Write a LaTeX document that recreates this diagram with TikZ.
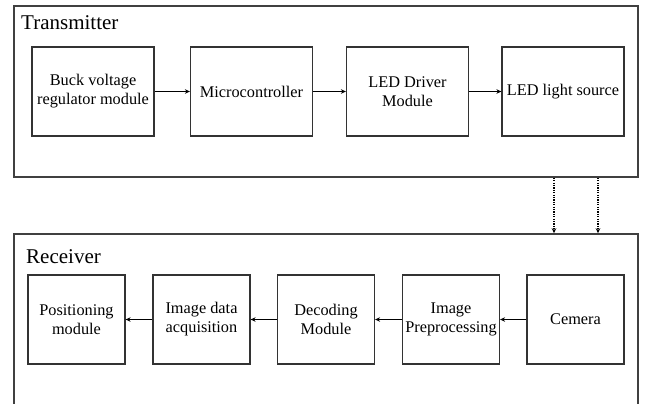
\documentclass[tikz,border=0pt]{standalone}
\usepackage{fontspec}
\setmainfont{Liberation Serif}
\usetikzlibrary{arrows.meta,positioning}

\begin{document}
\begin{tikzpicture}[
  x=1pt, y=-1pt,
  font=\fontsize{16.3}{19}\selectfont,
  frame/.style={draw=black!75, line width=1.5pt, rectangle, minimum width=624pt, inner sep=0pt},
  box/.style={draw=black!80, line width=1.2pt, rectangle, minimum height=89pt, align=center, inner sep=2pt},
  txbox/.style={box, minimum width=122pt},
  rxbox/.style={box, minimum width=97pt},
  title/.style={anchor=base west, inner sep=0pt, font=\fontsize{21}{25}\selectfont},
  arr/.style={-{Stealth[length=5pt,width=4.5pt]}, line width=1.6pt},
  dotarr/.style={-{Stealth[length=5pt,width=4.5pt]}, dash pattern=on 1.2pt off 1.2pt, line width=1.3pt}
]
\useasboundingbox (0,0) rectangle (645,404);
\node[frame, minimum height=171pt] (tx) at (326,91.5) {};
\node[frame, minimum height=190pt] (rx) at (326,329) {};
\node[title] (txlab) at (21,30) {Transmitter};
\node[title] (rxlab) at (26,263) {Receiver};

\node[txbox] (buck) at (93,91.5) {Buck voltage\\regulator module};
\node[txbox] (mcu) at (251.5,91.5) {Microcontroller};
\node[txbox] (drv) at (407.5,91.5) {LED Driver\\Module};
\node[txbox] (led) at (563,91.5) {LED light source};

\node[rxbox] (pos) at (76.5,319.5) {Positioning\\module};
\node[rxbox] (acq) at (201.5,319.5) {Image data\\acquisition};
\node[rxbox] (dec) at (326,319.5) {Decoding\\Module};
\node[rxbox] (pre) at (451,319.5) {Image\\Preprocessing};
\node[rxbox] (cam) at (575.5,319.5) {Cemera};

\draw[arr] (buck.east) -- (mcu.west);
\draw[arr] (mcu.east) -- (drv.west);
\draw[arr] (drv.east) -- (led.west);
\draw[arr] (cam.west) -- (pre.east);
\draw[arr] (pre.west) -- (dec.east);
\draw[arr] (dec.west) -- (acq.east);
\draw[arr] (acq.west) -- (pos.east);

% optical link
\coordinate (d1) at (554,0);
\coordinate (d2) at (598,0);
\draw[dotarr] (d1 |- tx.south) -- (d1 |- rx.north);
\draw[dotarr] (d2 |- tx.south) -- (d2 |- rx.north);
\end{tikzpicture}
\end{document}
